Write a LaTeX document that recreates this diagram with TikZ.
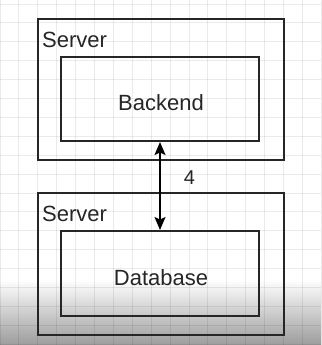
\documentclass[tikz,border=0pt]{standalone}
\usepackage{fontspec}
\setmainfont{Liberation Sans}
\usetikzlibrary{arrows.meta}
\definecolor{lineC}{HTML}{262626}
\definecolor{gridC}{HTML}{E6E6E6}
\definecolor{shadeC}{HTML}{9C9C9C}
\tikzset{
  outerbox/.style={draw=lineC, line width=2pt, minimum width=246pt, inner sep=0pt},
  innerbox/.style={draw=lineC, line width=2pt, minimum width=198pt, inner sep=0pt},
  lbl/.style={text=lineC, font=\fontsize{22}{26}\selectfont, inner sep=0pt},
  conn/.style={draw=black, line width=1.6pt, {Stealth[length=13pt,width=11pt,inset=2.5pt]}-{Stealth[length=13pt,width=11pt,inset=2.5pt]}},
}
\begin{document}
\begin{tikzpicture}[x=1pt,y=-1pt]
\useasboundingbox (0,0) rectangle (321,345);
% background with darkening at the bottom
\fill[white] (0,0) rectangle (321,280);
\shade[top color=white, bottom color=shadeC] (0,279.5) rectangle (321,345);
% grid
\foreach \i in {0,...,17} {
  \draw[black, draw opacity=0.08, line width=0.9pt] ({\i*18.9},0) -- ({\i*18.9},345);
}
\foreach \j in {0,...,18} {
  \draw[black, draw opacity=0.08, line width=0.9pt] (0,{4+\j*18.9}) -- (321,{4+\j*18.9});
}
% boxes
\node[outerbox, minimum height=141pt] (srv1) at (160.5,89.5) {};
\node[innerbox, minimum height=84pt] (be) at (160,99) {};
\node[outerbox, minimum height=142pt] (srv2) at (160.5,264) {};
\node[innerbox, minimum height=85pt] (db) at (160,273.5) {};
% labels
\node[lbl, anchor=base west] (srv1lbl) at (42,48) {Server};
\node[lbl, anchor=base west] (srv2lbl) at (42,221.5) {Server};
\node[lbl, anchor=base] (belbl) at (161,110) {Backend};
\node[lbl, anchor=base] (dblbl) at (161,285) {Database};
% connector
\draw[conn] (be.south) -- (db.north);
\node[lbl, anchor=base, font=\fontsize{20}{24}\selectfont] (num) at (189.5,184) {4};
\end{tikzpicture}
\end{document}
